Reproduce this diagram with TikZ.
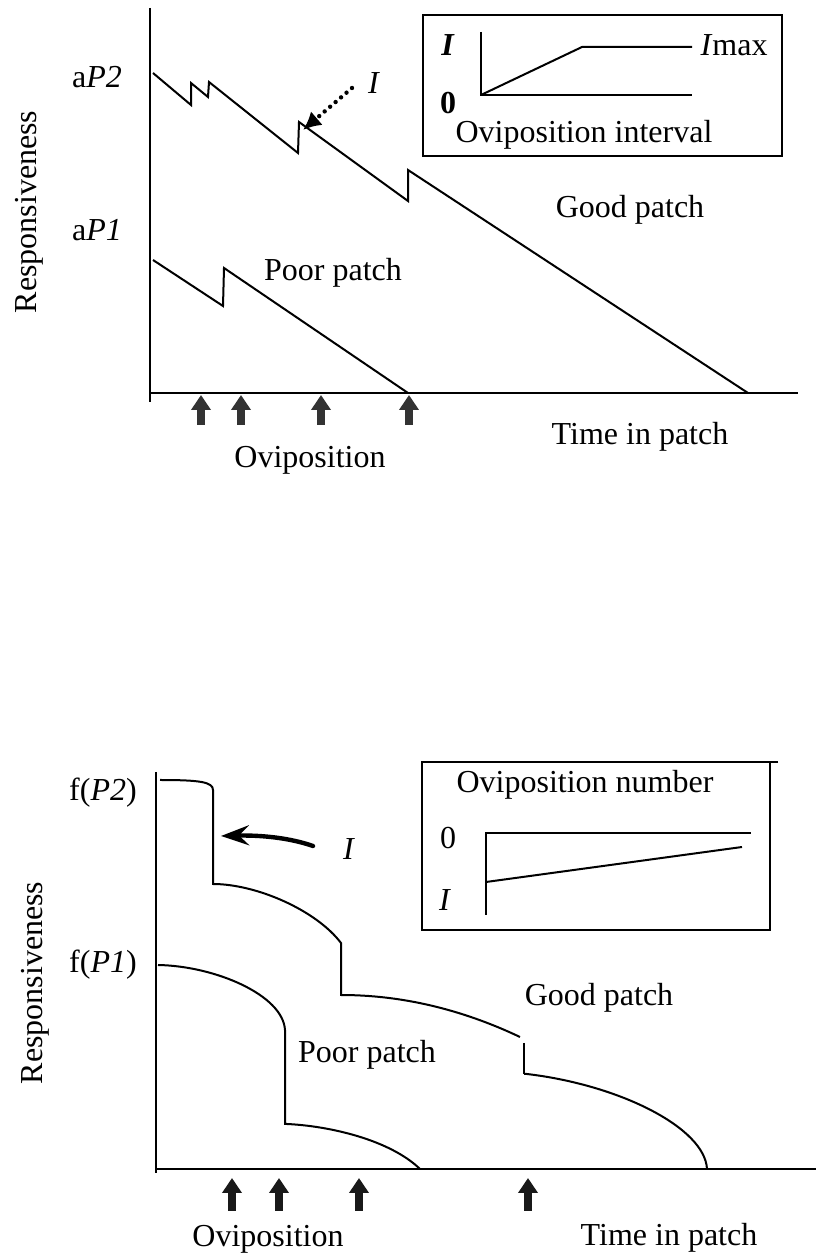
\documentclass[tikz,border=0pt]{standalone}
\usepackage{fontspec}
\setmainfont{Liberation Serif}
\usetikzlibrary{arrows.meta}

\begin{document}
\begin{tikzpicture}[x=0.5pt, y=0.5pt]
  \tikzset{lbl/.style={font=\fontsize{16}{19}\selectfont, inner sep=1pt}}
  \tikzset{crv/.style={line width=1pt, line join=miter}}
  \tikzset{axis/.style={line width=1.2pt}}
  \tikzset{ovi/.style={line width=4pt, -{Triangle[width=9.5pt, length=7.5pt]}}}
  \useasboundingbox (0,0) rectangle (816,1255);

  %% upper panel: linear decrease
  \draw[axis] (150,1247) -- (150,853);
  \draw[axis] (150,862) -- (798,862);

  \node[lbl, rotate=90] (resptop) at (29,1043) {Responsiveness};
  \node[lbl] (aptwo) at (97,1178) {a\textit{P2}};
  \node[lbl] (apone) at (97,1025) {a\textit{P1}};
  \node[lbl] (goodtop) at (630,1045) {Good patch};
  \node[lbl] (poortop) at (333,982) {Poor patch};
  \node[lbl] (timetop) at (640,818) {Time in patch};
  \node[lbl] (ovitop) at (310,795) {Oviposition};
  \node[lbl] (itop) at (374,1172) {\textit{I}};

  \draw[crv] (153,1182) -- (191,1150) -- (191,1172) -- (208,1158) -- (209,1173)
    -- (298,1102) -- (299,1133) -- (408,1054) -- (408,1085) -- (748,862);
  \draw[crv] (153,995) -- (223,949) -- (224,987) -- (408,862);

  \coordinate (itail) at (352,1167);
  \coordinate (ijump) at (303,1125);
  \draw[line width=2.2pt, dash pattern=on 0pt off 3.6pt, line cap=round,
    -{Latex[length=9pt, width=9pt]}] (itail) -- (ijump);

  \foreach \x in {201,241,321,409}
    \draw[ovi, color=black!80] (\x,830) -- (\x,860);

  % inset: oviposition interval
  \draw[line width=1.2pt] (423,1240) rectangle (782,1099);
  \draw[crv] (481,1223) -- (481,1160) -- (692,1160);
  \draw[crv] (481,1160) -- (582,1208) -- (692,1208);
  \node[lbl] (itopin) at (448,1210) {\textbf{\textit{I}}};
  \node[lbl] (zerotop) at (448,1152) {\textbf{0}};
  \node[lbl] (imax) at (734,1210) {\textit{I}max};
  \node[lbl] (intlbl) at (584,1120) {Oviposition interval};

  %% lower panel: stepwise decrease
  \draw[axis] (156,483) -- (156,82);
  \draw[axis] (156,86) -- (816,86);

  \node[lbl, rotate=90] (respbot) at (35,272) {Responsiveness};
  \node[lbl] (fptwo) at (103,462) {f(\textit{P2})};
  \node[lbl] (fpone) at (103,290) {f(\textit{P1})};
  \node[lbl] (goodbot) at (599,257) {Good patch};
  \node[lbl] (poorbot) at (367,200) {Poor patch};
  \node[lbl] (timebot) at (669,17) {Time in patch};
  \node[lbl] (ovibot) at (268,16) {Oviposition};
  \node[lbl] (ibot) at (349,406) {\textit{I}};

  \draw[crv] (160,475) .. controls (200,475) and (213,473) .. (213,465)
    -- (213,371) .. controls (256,371) and (316,345) .. (341,312)
    -- (341,260) .. controls (401,260) and (461,246) .. (520,218);
  \draw[crv] (524,212) -- (524,181);
  \draw[crv] (524,181) -- (527,181) .. controls (620,170) and (705,127) .. (707,86);
  \draw[crv] (158,290) .. controls (215,289) and (283,260) .. (285,225)
    -- (285,131) -- (287,131) .. controls (330,129) and (390,115) .. (420,86);

  \coordinate (itailb) at (313,409);
  \coordinate (ijumpb) at (221,419);
  \draw[line width=2.2pt, line cap=round, -{Stealth[length=14pt, width=10pt, inset=5pt]}]
    (itailb) .. controls (290,417) and (262,420) .. (ijumpb);

  \foreach \x in {232,279,359,528}
    \draw[ovi, color=black!90] (\x,44) -- (\x,77);

  % inset: oviposition number
  \draw[line width=1.2pt] (778,493) -- (422,493) -- (422,325) -- (770,325) -- (770,493);
  \draw[crv] (486,340) -- (486,422) -- (751,422);
  \draw[crv] (486,373) -- (742,408);
  \node[lbl] (numlbl) at (585,470) {Oviposition number};
  \node[lbl] (zerobot) at (448,417) {0};
  \node[lbl] (ibotin) at (445,355) {\textit{I}};
\end{tikzpicture}
\end{document}
